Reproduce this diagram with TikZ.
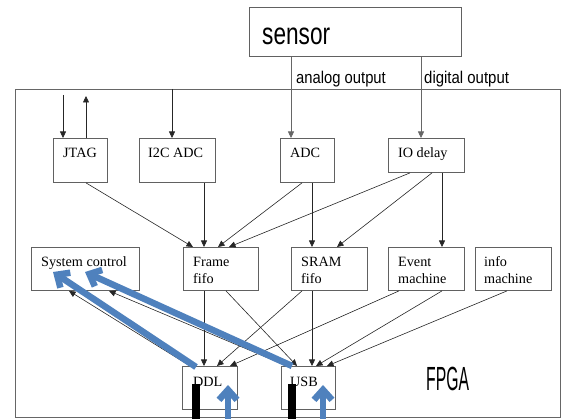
\documentclass[tikz,border=0pt]{standalone}
\usepackage{fontspec}
\setmainfont{Liberation Serif}
\newfontfamily\labelsans{Liberation Sans}
\usetikzlibrary{arrows.meta,calc}
\definecolor{linkblue}{RGB}{79,129,189}
\begin{document}
\begin{tikzpicture}[x=1pt,y=-1pt,
  box/.style={draw=black!62, line width=0.9pt, inner sep=0pt, anchor=north west},
  txt/.style={anchor=north west, inner sep=0pt, align=left, font=\fontsize{14.2}{17}\selectfont},
  wire/.style={draw=black!85, line width=0.6pt, -{Triangle[length=6.5pt,width=6pt]}},
  fat/.style={draw=linkblue, line width=6.5pt, -{Straight Barb[length=10pt,width=18pt]}},
  big/.style={anchor=base west, inner sep=0pt},
]
\useasboundingbox (0,0) rectangle (568,419);

% outer FPGA frame and the sensor
\node[box, draw=black!60, line width=1.1pt, minimum width=545pt, minimum height=328pt] (fpga) at (15,89) {};
\node[box, minimum width=212pt, minimum height=49pt] (sensor) at (249,7) {};

% blocks
\node[box, minimum width=54pt, minimum height=44pt] (jtag)  at (53,138) {};
\node[box, minimum width=76pt, minimum height=44pt] (i2c)   at (139,138) {};
\node[box, minimum width=54pt, minimum height=44pt] (adc)   at (280,138) {};
\node[box, minimum width=76pt, minimum height=34pt] (iod)   at (388,138) {};
\node[box, minimum width=108pt, minimum height=43pt] (sys)  at (31,247) {};
\node[box, minimum width=75pt, minimum height=43pt] (frame) at (183,247) {};
\node[box, minimum width=76pt, minimum height=43pt] (sram)  at (291,247) {};
\node[box, minimum width=76pt, minimum height=43pt] (event) at (388,247) {};
\node[box, minimum width=76pt, minimum height=43pt] (info)  at (475,247) {};
\node[box, minimum width=55pt, minimum height=43pt] (ddl)   at (182,366) {};
\node[box, minimum width=54pt, minimum height=43pt] (usb)   at (281,366) {};

% block captions
\node[txt] (jtagT)  at ($(jtag.north west)+(10,7)$)  {\strut JTAG};
\node[txt] (i2cT)   at ($(i2c.north west)+(9,7)$)    {\strut I2C ADC};
\node[txt] (adcT)   at ($(adc.north west)+(10,7)$)   {\strut ADC};
\node[txt] (iodT)   at ($(iod.north west)+(10,7)$)   {\strut IO delay};
\node[txt] (sysT)   at ($(sys.north west)+(10,7)$)   {\strut System control};
\node[txt] (frameT) at ($(frame.north west)+(10,7)$) {\strut Frame\\fifo};
\node[txt] (sramT)  at ($(sram.north west)+(10,7)$)  {\strut SRAM\\fifo};
\node[txt] (eventT) at ($(event.north west)+(10,7)$) {\strut Event\\machine};
\node[txt] (infoT)  at ($(info.north west)+(9,7)$)   {\strut info\\machine};
\node[txt] (ddlT)   at ($(ddl.north west)+(11,8)$)   {\strut DDL};
\node[txt] (usbT)   at ($(usb.north west)+(9,8)$)    {\strut USB};

% condensed sans titles
\node[big, font=\labelsans\fontsize{30.8}{31}\selectfont] (sensorT) at (262,45) {\scalebox{0.735}[1]{sensor}};
\node[big, font=\labelsans\fontsize{17}{18}\selectfont] (analogT) at (296,84) {\scalebox{0.87}[1]{analog output}};
\node[big, font=\labelsans\fontsize{17}{18}\selectfont] (digitalT) at (424,84) {\scalebox{0.88}[1]{digital output}};
\node[big, font=\labelsans\fontsize{33.5}{34}\selectfont] (fpgaT) at (426,391) {\scalebox{0.47}[1]{FPGA}};

% free ends
\coordinate (jin)  at (63,95);
\coordinate (jout) at (86,96);
\coordinate (i2cin) at ($(fpga.north west)+(157,0)$);

% sensor outputs and external inputs
\draw[wire, draw=black!60] ($(sensor.south west)+(42,0)$) -- ($(adc.north west)+(11,0)$);
\draw[wire, draw=black!60] ($(sensor.south west)+(172,0)$) -- ($(iod.north west)+(33,0)$);
\draw[wire] (jin) -- ($(jtag.north west)+(10,0)$);
\draw[wire] ($(jtag.north west)+(33,0)$) -- (jout);
\draw[wire] (i2cin) -- ($(i2c.north west)+(33,0)$);

% first row to second row
\draw[wire] ($(jtag.south west)+(33,0)$) -- ($(frame.north west)+(10,0)$);
\draw[wire] ($(i2c.south west)+(65,0)$)  -- ($(frame.north west)+(21,0)$);
\draw[wire] ($(adc.south west)+(22,0)$)  -- ($(frame.north west)+(35,0)$);
\draw[wire] ($(iod.south west)+(22,0)$)  -- ($(frame.north west)+(46,0)$);
\draw[wire] ($(adc.south west)+(32,0)$)  -- ($(sram.north west)+(21,0)$);
\draw[wire] ($(iod.south west)+(44,0)$)  -- ($(sram.north west)+(46,0)$);
\draw[wire] ($(iod.south west)+(54,0)$)  -- ($(event.north west)+(54,0)$);

% second row to DDL and USB
\draw[wire] ($(frame.south west)+(21,0)$) -- ($(ddl.north west)+(22,0)$);
\draw[wire] ($(sram.south west)+(11,0)$)  -- ($(ddl.north west)+(35,0)$);
\draw[wire] ($(event.south west)+(11,0)$) -- ($(ddl.north west)+(48,0)$);
\draw[wire] ($(frame.south west)+(43,0)$) -- ($(usb.north west)+(16,0)$);
\draw[wire] ($(sram.south west)+(21,0)$)  -- ($(usb.north west)+(31,0)$);
\draw[wire] ($(event.south west)+(54,0)$) -- ($(usb.north west)+(35,0)$);
\draw[wire] ($(info.south west)+(32,0)$)  -- ($(usb.north west)+(46,0)$);

% DDL and USB back to system control
\draw[wire] ($(ddl.north west)+(8,0)$) -- ($(sys.south west)+(38,0)$);
\draw[wire] ($(usb.north west)+(6,0)$) -- ($(sys.south west)+(78,0)$);

% connector plugs
\fill ($(ddl.north west)+(10,18)$) rectangle ++(8,36);
\fill ($(usb.north west)+(7,18)$) rectangle ++(8,36);

% highlighted paths
\coordinate (ddlup) at (228,419);
\coordinate (usbup) at (323,419);
\draw[fat] ($(ddl.north west)+(14,1)$) -- ($(sys.north west)+(22,25)$);
\draw[fat] ($(usb.north west)+(11,0)$) -- ($(sys.north west)+(54,25)$);
\draw[fat] (ddlup) -- ($(ddl.north west)+(46,19)$);
\draw[fat] (usbup) -- ($(usb.north west)+(42,19)$);
\end{tikzpicture}
\end{document}
